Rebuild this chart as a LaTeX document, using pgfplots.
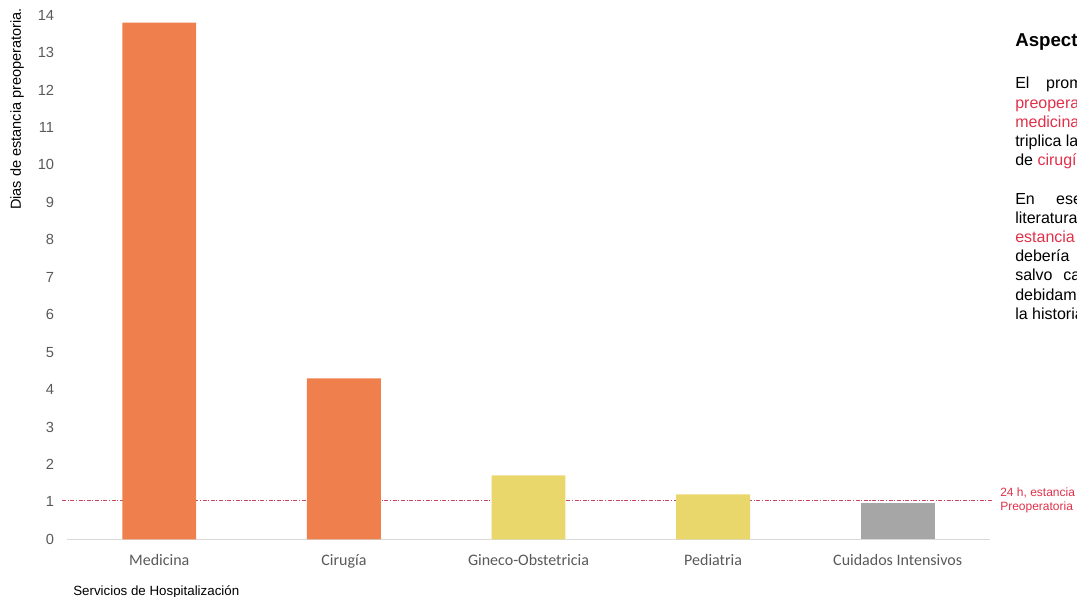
\documentclass[border=0pt]{standalone}
\usepackage{pgfplots}
\pgfplotsset{compat=1.18}
\usepackage{fontspec}
\setmainfont{Liberation Sans}
\newfontfamily\calibri{Carlito}
\definecolor{barorange}{HTML}{EF7F4D}
\definecolor{baryellow}{HTML}{E9D76B}
\definecolor{bargray}{HTML}{A6A6A6}
\definecolor{tickgray}{HTML}{595959}
\definecolor{axgray}{HTML}{D9D9D9}
\definecolor{txtred}{HTML}{E0304A}
\definecolor{linered}{HTML}{C8475A}
\begin{document}
\begin{tikzpicture}
\useasboundingbox (0,0) rectangle (807.75pt,447pt);
\begin{axis}[
 at={(50.25pt,42.5pt)}, anchor=south west,
 scale only axis, width=692.25pt, height=393.2pt,
 xmin=-0.5, xmax=4.5, ymin=0, ymax=14,
 clip=false,
 axis x line*=bottom, axis y line*=left,
 x axis line style={draw=axgray, line width=1.1pt, -},
 y axis line style={draw=none},
 tick style={draw=none},
 xtick={0,1,2,3,4},
 xticklabels={Medicina, Cirugía, Gineco-Obstetricia, Pediatria, Cuidados Intensivos},
 ytick={0,1,...,14},
 xticklabel style={font=\calibri\fontsize{12}{14}\selectfont, text=tickgray, anchor=base, inner sep=0pt, yshift=-19.3pt},
 yticklabel style={font=\fontsize{11}{12}\selectfont, text=tickgray, anchor=east, inner sep=0pt, xshift=-9.5pt},
 /pgf/number format/assume math mode=true,
]
\addplot[linered, line width=0.6pt, dash pattern=on 3pt off 1.2pt on 0.8pt off 1.2pt] coordinates {(-0.527,1.05) (4.51,1.05)};
\addplot[ybar, bar width=0.4, bar shift=0pt, fill=barorange, draw=none] coordinates {(0,13.8) (1,4.3)};
\addplot[ybar, bar width=0.4, bar shift=0pt, fill=baryellow, draw=none] coordinates {(2,1.71) (3,1.2)};
\addplot[ybar, bar width=0.4, bar shift=0pt, fill=bargray, draw=none] coordinates {(4,0.98)};
\end{axis}
\begin{scope}[x=0.75pt, y=-0.75pt, shift={(0pt,447pt)}]
\node[anchor=base west, inner sep=0pt, font=\bfseries\fontsize{14}{16}\selectfont] at (1015,47) {Aspectos};
\begin{scope}[every node/.style={anchor=base west, inner sep=0pt, font=\fontsize{12}{14}\selectfont}]
\node at (1015,89) {El\hspace{12.5pt}promedio de estancia};
\node at (1015,108.2) {\color{txtred}preoperatoria en};
\node at (1015,127.4) {{\color{txtred}medicina} es};
\node at (1015,146.6) {triplica la de};
\node at (1015,165.8) {de {\color{txtred}cirugía}.};
\node at (1015,204.2) {En\hspace{16pt}ese sentido};
\node at (1015,223.4) {literatura indica};
\node at (1015,242.6) {{\color{txtred}estancia}\hspace{10pt}{\color{txtred}preoperatoria}};
\node at (1015,261.8) {debería\hspace{14pt}ser};
\node at (1015,281) {salvo\hspace{8pt}casos};
\node at (1015,300.2) {debidamente};
\node at (1015,319.4) {la historia clínica.};
\end{scope}
\node[anchor=base west, inner sep=0pt, text=txtred, font=\fontsize{9}{10}\selectfont] at (1000,496.7) {24 h, estancia};
\node[anchor=base west, inner sep=0pt, text=txtred, font=\fontsize{9}{10}\selectfont] at (1000,510) {Preoperatoria};
\node[rotate=90, inner sep=0pt, font=\fontsize{10.9}{12}\selectfont] at (17,109) {Dias de estancia preoperatoria.};
\node[anchor=base west, inner sep=0pt, font=\fontsize{10}{12}\selectfont] at (73,595) {Servicios de Hospitalización};
\end{scope}
\end{tikzpicture}
\end{document}
